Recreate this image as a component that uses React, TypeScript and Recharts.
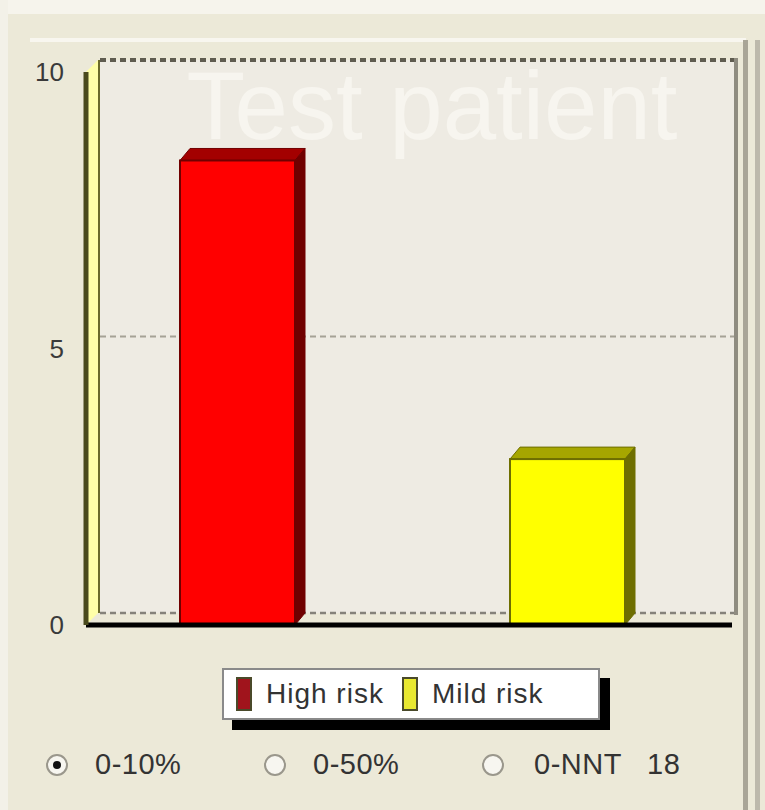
import React from "react";
import { BarChart, Bar, XAxis, YAxis, CartesianGrid, Cell, ReferenceLine } from "recharts";

const categories = ["High risk", "Mild risk"];
const riskValues = [8.4, 3.0];
const yTicks = [0, 5, 10];
const rangeOptions = ["0-10%", "0-50%", "0-NNT   18"];
const selectedOption = 0;

const faceColors = [
  { front: "#FF0000", top: "#A30000", side: "#700000", swatch: "#A0141C" },
  { front: "#FFFF00", top: "#A6A600", side: "#6E6E00", swatch: "#E8E830" },
];

const data = categories.map((name, i) => ({ name, value: riskValues[i] }));

const W = 765;
const H = 810;
const DX = 10;
const DY = 12;
const FONT = "'Liberation Sans', Arial, sans-serif";

// back wall line styles per tick: bottom, middle, top
const wallLineStroke = ["#85827A", "#A5A296", "#5F5C50"];
const wallLineWidth = [2.5, 2, 4];

function Bar3D(props: any) {
  const { x, y, width, height, payload } = props;
  if (!height || height <= 0) return null;
  const c = faceColors[categories.indexOf(payload.name)];
  const top = `${x},${y} ${x + DX},${y - DY} ${x + width + DX},${y - DY} ${x + width},${y}`;
  const side = `${x + width},${y} ${x + width + DX},${y - DY} ${x + width + DX},${y + height - DY} ${x + width},${y + height}`;
  return (
    <g>
      <polygon points={top} fill={c.top} stroke={c.side} strokeWidth={1} />
      <polygon points={side} fill={c.side} stroke={c.side} strokeWidth={1} />
      <rect x={x} y={y} width={width} height={height} fill={c.front} stroke={c.side} strokeWidth={2} />
    </g>
  );
}

function Radio({ checked }: { checked: boolean }) {
  return (
    <svg width={26} height={26} style={{ verticalAlign: "middle" }}>
      <circle cx={13} cy={13} r={10} fill="#F7F6F0" stroke="#9A978C" strokeWidth={2} />
      {checked && <circle cx={13} cy={13} r={4} fill="#111" />}
    </svg>
  );
}

export default function App() {
  return (
    <div
      style={{
        position: "absolute",
        left: 0,
        top: 0,
        width: W,
        height: H,
        background: "#ECE9D8",
        overflow: "hidden",
        fontFamily: FONT,
      }}
    >
      {/* window frame */}
      <div style={{ position: "absolute", left: 0, top: 0, width: W, height: 14, background: "#F6F4EC" }} />
      <div style={{ position: "absolute", left: 30, top: 38, width: 716, height: 4, background: "#F8F6EF" }} />
      <div style={{ position: "absolute", left: 743, top: 40, width: 5, height: 770, background: "#A9A597" }} />
      <div style={{ position: "absolute", left: 755, top: 40, width: 5, height: 770, background: "#BDB9AC" }} />
      <div style={{ position: "absolute", left: 0, top: 0, width: 8, height: H, background: "#F3F1E8" }} />

      {/* back wall: same scale, shifted back by the depth offset */}
      <div style={{ position: "absolute", left: 0, top: 0 }}>
        <BarChart width={W} height={H} data={data} margin={{ top: 60, right: 27, bottom: 197, left: 100 }}>
          <XAxis dataKey="name" hide />
          <YAxis hide domain={[0, 10]} ticks={yTicks} />
          <CartesianGrid vertical={false} horizontal={false} fill="#EEEBE3" />
          <Bar dataKey="value" fill="none" isAnimationActive={false} />
          {yTicks.map((t, i) => (
            <ReferenceLine
              key={t}
              y={t}
              stroke={wallLineStroke[i]}
              strokeWidth={wallLineWidth[i]}
              strokeDasharray="6 4"
            />
          ))}
        </BarChart>
      </div>

      <svg width={W} height={H} style={{ position: "absolute", left: 0, top: 0 }}>
        <line x1={736} y1={58} x2={736} y2={615} stroke="#8F8C80" strokeWidth={4} />
        <polygon points="86,72 98,60 98,613 86,625" fill="#FFFFA8" />
        <line x1={99} y1={60} x2={99} y2={613} stroke="#6B6B2A" strokeWidth={2} />
        <text x={432} y={139} textAnchor="middle" fontSize={96} fontFamily={FONT} fill="#F7F5EF">
          Test patient
        </text>
      </svg>

      {/* bars and axes */}
      <div style={{ position: "absolute", left: 0, top: 0 }}>
        <BarChart width={W} height={H} data={data} margin={{ top: 72, right: 33, bottom: 184, left: 0 }}>
          <XAxis
            dataKey="name"
            height={1}
            tick={false}
            tickLine={false}
            axisLine={{ stroke: "#000", strokeWidth: 5 }}
            padding={{ left: -14, right: 0 }}
          />
          <YAxis
            width={86}
            domain={[0, 10]}
            ticks={yTicks}
            interval={0}
            tickLine={false}
            tickMargin={16}
            axisLine={{ stroke: "#4A4A1C", strokeWidth: 5 }}
            tick={{ fill: "#3A3A3A", fontSize: 26, fontFamily: FONT }}
          />
          <Bar dataKey="value" barSize={115} shape={Bar3D} isAnimationActive={false}>
            {data.map((d, i) => (
              <Cell key={d.name} fill={faceColors[i].front} />
            ))}
          </Bar>
        </BarChart>
      </div>

      {/* legend */}
      <div
        style={{
          position: "absolute",
          left: 222,
          top: 668,
          width: 374,
          height: 48,
          background: "#FFFFFF",
          border: "2px solid #8A8A8A",
          boxShadow: "10px 10px 0 #000",
          display: "flex",
          alignItems: "center",
          fontSize: 28,
          color: "#333",
        }}
      >
        {categories.map((name, i) => (
          <div key={name} style={{ display: "flex", alignItems: "center", marginLeft: i === 0 ? 12 : 18 }}>
            <div
              style={{
                width: 12,
                height: 30,
                background: faceColors[i].swatch,
                border: "2px solid #4A4A2A",
                marginRight: 14,
              }}
            />
            <span style={{ letterSpacing: 1 }}>{name}</span>
          </div>
        ))}
      </div>

      {/* range options */}
      {rangeOptions.map((label, i) => (
        <div
          key={label}
          style={{
            position: "absolute",
            left: [44, 262, 480][i],
            top: 748,
            display: "flex",
            alignItems: "center",
            fontSize: 29,
            color: "#333",
            whiteSpace: "pre",
            letterSpacing: 0.5,
          }}
        >
          <Radio checked={i === selectedOption} />
          <span style={{ marginLeft: [25, 25, 28][i] }}>{label}</span>
        </div>
      ))}
    </div>
  );
}
